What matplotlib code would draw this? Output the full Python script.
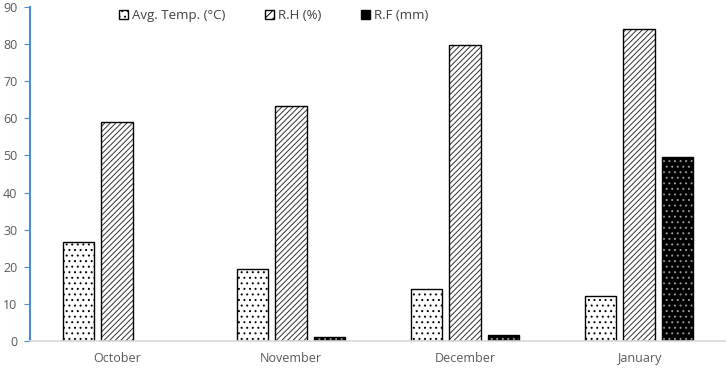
import matplotlib
matplotlib.use('Agg')
import matplotlib.pyplot as plt
from matplotlib.patches import Patch
import numpy as np

plt.rcParams['font.family'] = ['Open Sans', 'DejaVu Sans']
plt.rcParams['hatch.linewidth'] = 0.7

months = ['October', 'November', 'December', 'January']
avg_temp = [26.8, 19.3, 14.0, 12.0]
rel_hum = [59.1, 63.3, 79.7, 84.0]
rain = [0.0, 1.2, 1.5, 49.6]

x = np.arange(len(months))
w = 0.18
step = 0.22

fig = plt.figure(figsize=(7.26, 3.70), dpi=100)
ax = fig.add_axes([30 / 726, 29 / 370, 696 / 726, 334 / 370])

rain_arr = np.array(rain)
has_rain = rain_arr > 0

ax.bar(x - step, avg_temp, w, facecolor='white', edgecolor='black', hatch='...', lw=0.0)
ax.bar(x - step, avg_temp, w, facecolor='none', edgecolor='black', lw=1.0)
ax.bar(x, rel_hum, w, facecolor='white', edgecolor='#303030', hatch='//////', lw=0.0)
ax.bar(x, rel_hum, w, facecolor='none', edgecolor='black', lw=1.0)
ax.bar(x[has_rain] + step, rain_arr[has_rain], w, facecolor='black', edgecolor='#999999', hatch='...', lw=0.0)
ax.bar(x[has_rain] + step, rain_arr[has_rain], w, facecolor='none', edgecolor='black', lw=1.0)

handles = [
    Patch(facecolor='white', edgecolor='black', hatch='...', label='Avg. Temp. (°C)'),
    Patch(facecolor='white', edgecolor='black', hatch='////', label='R.H (%)'),
    Patch(facecolor='black', edgecolor='black', hatch='..', label='R.F (mm)'),
]
ax.legend(handles=handles, loc='upper center', bbox_to_anchor=(0.35, 1.03), ncol=3,
          frameon=False, fontsize=9.5, handlelength=0.7, handleheight=0.7,
          columnspacing=3.0, handletextpad=0.3, labelcolor='#404040')

ax.set_xlim(-0.5, 3.5)
ax.set_ylim(0, 90)
ax.set_yticks(range(0, 91, 10))
ax.set_xticks(x)
ax.set_xticklabels(months)
ax.tick_params(axis='y', direction='out', length=4, color='#4a8fd0', labelsize=9, labelcolor='#595959', pad=5)
ax.tick_params(axis='x', length=0, labelsize=9, labelcolor='#595959', pad=8)

for s in ['top', 'right']:
    ax.spines[s].set_visible(False)
ax.spines['left'].set_color('#4a8fd0')
ax.spines['left'].set_linewidth(1.5)
ax.spines['bottom'].set_color('#d9d9d9')
ax.spines['bottom'].set_linewidth(1.2)

fig.savefig('out.png', dpi=100)
